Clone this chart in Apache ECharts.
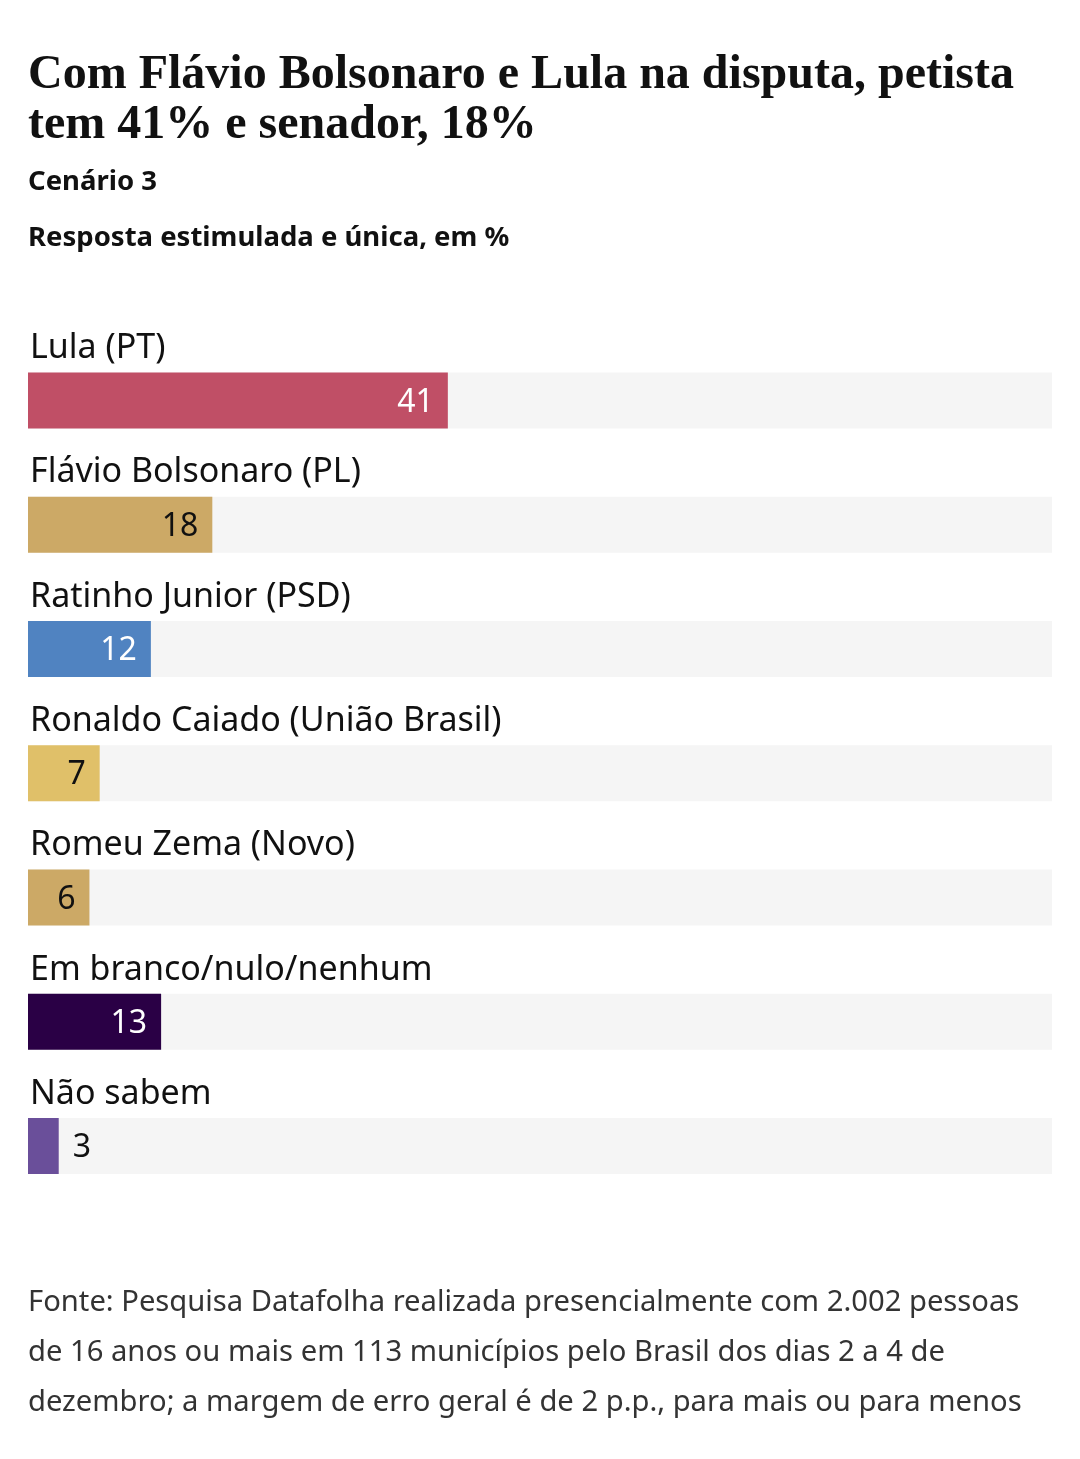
<!DOCTYPE html>
<html><head><meta charset="utf-8">
<script src="https://cdn.jsdelivr.net/npm/echarts@6/dist/echarts.min.js"></script>
<style>html,body{margin:0;padding:0;background:#fff}#c{width:1080px;height:1459px}</style>
</head><body><div id="c"></div>
<script>
const categories = ['Lula (PT)', 'Flávio Bolsonaro (PL)', 'Ratinho Junior (PSD)', 'Ronaldo Caiado (União Brasil)', 'Romeu Zema (Novo)', 'Em branco/nulo/nenhum', 'Não sabem'];
const values = [41, 18, 12, 7, 6, 13, 3];
const colors = ['#c04f66', '#cca966', '#5083c1', '#e0c069', '#cca966', '#2a0045', '#6a4f9a'];
const labelColors = ['#ffffff', '#111111', '#ffffff', '#111111', '#111111', '#ffffff', '#111111'];
const axisMax = 100;

const titleText = 'Com Flávio Bolsonaro e Lula na disputa, petista\ntem 41% e senador, 18%';
const subtitle1 = 'Cenário 3';
const subtitle2 = 'Resposta estimulada e única, em %';
const footer = 'Fonte: Pesquisa Datafolha realizada presencialmente com 2.002 pessoas\nde 16 anos ou mais em 113 municípios pelo Brasil dos dias 2 a 4 de\ndezembro; a margem de erro geral é de 2 p.p., para mais ou para menos';

const SANS = '"Noto Sans", sans-serif';
const chart = echarts.init(document.getElementById('c'), null, {renderer: 'canvas'});
chart.setOption({
  backgroundColor: '#ffffff',
  animation: false,
  title: [
    {text: titleText, left: 28, top: 51, padding: 0, textStyle: {fontFamily: '"Liberation Serif", serif', fontWeight: 'bold', fontSize: 48, lineHeight: 50, color: '#111'}},
    {text: subtitle1, left: 28, top: 168, padding: 0, textStyle: {fontFamily: SANS, fontWeight: 'bold', fontSize: 27.5, color: '#111'}},
    {text: subtitle2, left: 28, top: 224, padding: 0, textStyle: {fontFamily: SANS, fontWeight: 'bold', fontSize: 27.5, color: '#111'}},
    {text: footer, left: 28, top: 1278, padding: 0, textStyle: {fontFamily: SANS, fontWeight: 'normal', fontSize: 29.2, lineHeight: 50, color: '#333'}}
  ],
  grid: {left: 28, right: 28, top: 338.4, height: 869.8, containLabel: false},
  xAxis: {type: 'value', min: 0, max: axisMax, show: false},
  yAxis: {
    type: 'category', data: categories, inverse: true,
    axisLine: {show: false}, axisTick: {show: false}, splitLine: {show: false},
    axisLabel: {inside: true, margin: 2, align: 'left', verticalAlign: 'bottom', padding: [0, 0, 35, 0],
      fontFamily: SANS, fontSize: 34, color: '#111'}
  },
  series: [{
    type: 'bar', barWidth: 56,
    showBackground: true, backgroundStyle: {color: '#f5f5f5'},
    data: values.map((v, i) => ({
      value: v,
      itemStyle: {color: colors[i]},
      label: {show: true, position: v < 5 ? 'right' : 'insideRight', distance: 14, offset: [0, 2],
        color: labelColors[i], fontFamily: SANS, fontSize: 32}
    }))
  }]
});
</script></body></html>
